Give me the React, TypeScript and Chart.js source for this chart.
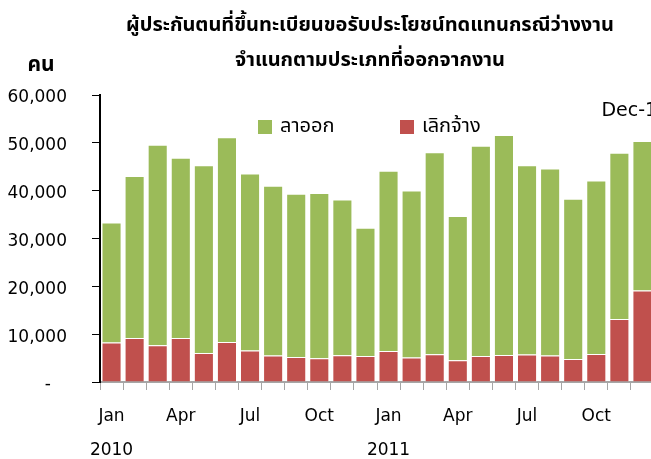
import React, { useEffect, useRef } from "react";
import { Chart, registerables } from "chart.js";
Chart.register(...registerables);

const categories = [
  "Jan-10","Feb-10","Mar-10","Apr-10","May-10","Jun-10","Jul-10","Aug-10","Sep-10","Oct-10","Nov-10","Dec-10",
  "Jan-11","Feb-11","Mar-11","Apr-11","May-11","Jun-11","Jul-11","Aug-11","Sep-11","Oct-11","Nov-11","Dec-11",
];
const tickLabels: (string | string[])[] = [
  ["Jan", "2010"], "", "", "Apr", "", "", "Jul", "", "", "Oct", "", "",
  ["Jan", "2011"], "", "", "Apr", "", "", "Jul", "", "", "Oct", "", "",
];
const laidOff = [8250, 9210, 7680, 9210, 6070, 8370, 6570, 5520, 5230, 4960, 5590, 5440,
  6490, 5100, 5800, 4540, 5440, 5650, 5730, 5520, 4810, 5860, 13190, 19130];
const resigned = [25110, 33840, 41920, 37670, 39220, 42780, 37040, 35500, 34120, 34530, 32580, 26790,
  37670, 34960, 42210, 30140, 43950, 45980, 39560, 39140, 33490, 36290, 34740, 31250];
const yTicks = [0, 10000, 20000, 30000, 40000, 50000, 60000];

const title1 = "ผู้ประกันตนที่ขึ้นทะเบียนขอรับประโยชน์ทดแทนกรณีว่างงาน";
const title2 = "จำแนกตามประเภทที่ออกจากงาน";
const unitLabel = "คน";
const legendResigned = "ลาออก";
const legendLaidOff = "เลิกจ้าง";
const cornerLabel = "Dec-11";

const GREEN = "#9BBB59";
const RED = "#C0504D";
const LATIN = "'DejaVu Sans', Tahoma, sans-serif";
const THAI = "Tahoma, 'Noto Sans Thai', 'Noto Sans', 'DejaVu Sans', sans-serif";

const textPlugin = {
  id: "customTexts",
  afterDraw(chart: any) {
    const ctx = chart.ctx as CanvasRenderingContext2D;
    const x = chart.scales.x;
    ctx.save();
    ctx.fillStyle = "#000";
    ctx.textBaseline = "middle";
    ctx.textAlign = "center";
    ctx.font = `bold 20px ${THAI}`;
    ctx.fillText(title1, 370, 27);
    ctx.fillText(title2, 370, 62);
    ctx.font = `bold 21px ${THAI}`;
    ctx.fillText(unitLabel, 41, 67);
    // legend
    ctx.textAlign = "left";
    ctx.fillStyle = GREEN;
    ctx.fillRect(258, 120, 14, 14);
    ctx.fillStyle = RED;
    ctx.fillRect(400, 120, 14, 14);
    ctx.fillStyle = "#000";
    ctx.font = `20px ${THAI}`;
    ctx.fillText(legendResigned, 280, 128);
    ctx.fillText(legendLaidOff, 422, 128);
    ctx.font = `19px ${LATIN}`;
    ctx.fillText(cornerLabel, x.getPixelForValue(23) - 41, 111);
    ctx.restore();
  },
};

export default function App() {
  const ref = useRef<HTMLCanvasElement>(null);
  useEffect(() => {
    const chart = new Chart(ref.current!, {
      type: "bar",
      data: {
        labels: categories,
        datasets: [
          {
            label: legendLaidOff,
            data: laidOff,
            backgroundColor: RED,
            borderColor: "rgba(255,255,255,0.45)",
            borderWidth: 1,
            barPercentage: 0.87,
            categoryPercentage: 1,
          },
          {
            label: legendResigned,
            data: resigned,
            backgroundColor: GREEN,
            borderColor: "rgba(255,255,255,0.45)",
            borderWidth: 1,
            barPercentage: 0.87,
            categoryPercentage: 1,
          },
        ],
      },
      options: {
        animation: false,
        responsive: false,
        maintainAspectRatio: false,
        layout: { padding: { top: 95, right: 26, left: 0, bottom: 0 } },
        plugins: { legend: { display: false }, title: { display: false }, tooltip: { enabled: false } },
        scales: {
          x: {
            stacked: true,
            offset: true,
            grid: { display: true, drawOnChartArea: false, offset: true, color: "#a6a6a6", tickLength: 8, lineWidth: 1 },
            border: { display: true, color: "#a6a6a6", width: 2 },
            ticks: {
              autoSkip: false,
              maxRotation: 0,
              minRotation: 0,
              padding: 10,
              color: "#000",
              font: { family: LATIN, size: 17, lineHeight: 2.0 },
              callback: (_v: any, i: number) => tickLabels[i],
            },
            afterFit: (s: any) => { s.height = 459 - 382; },
          },
          y: {
            stacked: true,
            min: 0,
            max: 60000,
            afterBuildTicks: (s: any) => { s.ticks = yTicks.map((v) => ({ value: v })); },
            grid: { display: true, drawOnChartArea: false, color: "#000", tickLength: 8 },
            border: { display: true, color: "#000", width: 2 },
            ticks: {
              padding: 25,
              labelOffset: 3,
              color: "#000",
              font: { family: LATIN, size: 17 },
              callback: (v: any) => (v === 0 ? "-   " : Number(v).toLocaleString("en-US")),
            },
            afterFit: (s: any) => { s.width = 100; },
          },
        },
      },
      plugins: [textPlugin],
    });
    return () => chart.destroy();
  }, []);
  return (
    <div style={{ position: "fixed", left: 0, top: 0, width: 651, height: 459, overflow: "hidden", background: "#fff" }}>
      <canvas ref={ref} width={680} height={459} style={{ width: 680, height: 459, display: "block" }} />
    </div>
  );
}
